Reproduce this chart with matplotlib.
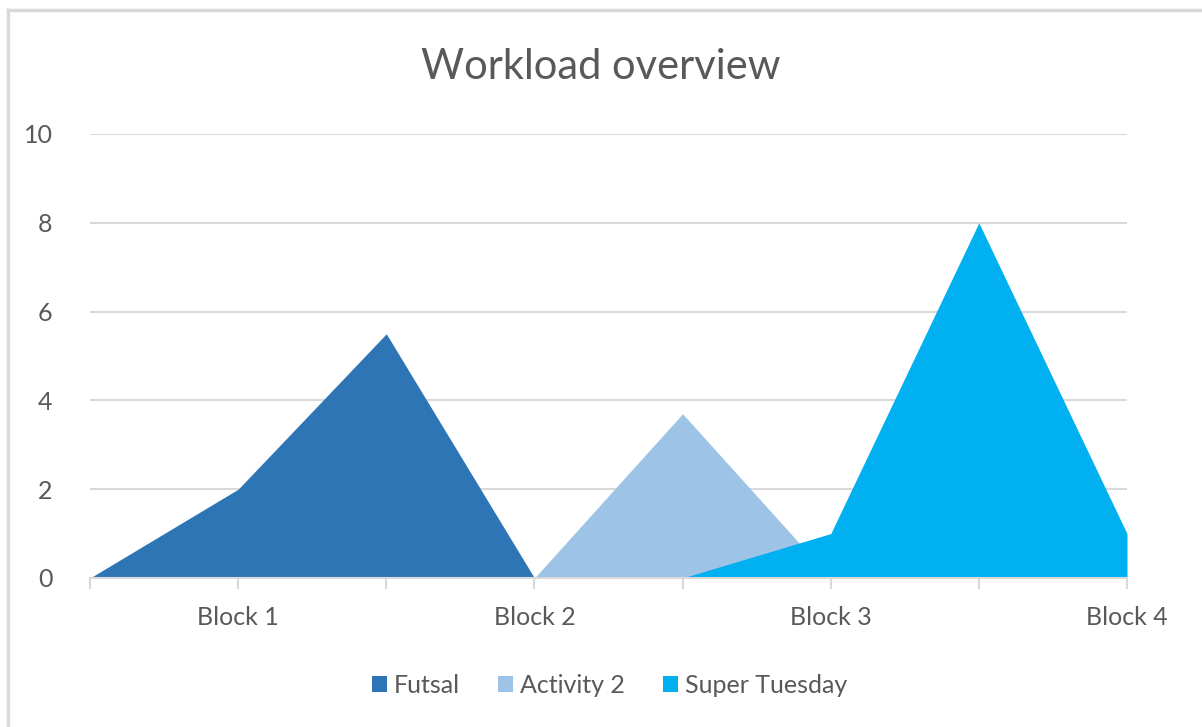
"""Workload overview area chart."""

import matplotlib

matplotlib.use("Agg")
import matplotlib.pyplot as plt
from matplotlib.lines import Line2D
from matplotlib.patches import Patch
import numpy as np

categories = ["", "Block 1", "", "Block 2", "", "Block 3", "", "Block 4"]
futsal = [0, 2, 5.5, 0, 0, 0, 0, 0]
activity2 = [0, 0, 0, 0, 3.7, 0, 0, 0]
super_tuesday = [0, 0, 0, 0, 0, 1, 8, 1]

series_names = ["Futsal", "Activity 2", "Super Tuesday"]
colors = ["#2E75B6", "#9DC3E6", "#00B0F0"]

plt.rcParams["font.family"] = ["Lato", "DejaVu Sans"]
text_color = "#595959"
grid_color = "#D9D9D9"

fig = plt.figure(figsize=(12.02, 7.27), dpi=100)
ax = fig.add_axes([0.0749, 0.2050, 0.8627, 0.6107])

x = np.arange(len(categories))
for vals, col in zip([futsal, activity2, super_tuesday], colors):
    ax.fill_between(x, 0, vals, color=col, linewidth=0)

ax.set_xlim(0, len(categories) - 1)
ax.set_ylim(0, 10)
ax.set_yticks(np.arange(0, 11, 2))
ax.set_xticks(x)
ax.set_xticklabels(categories)
ax.grid(axis="y", color=grid_color, linewidth=1.5)
ax.set_axisbelow(True)

for side in ["top", "right", "left"]:
    ax.spines[side].set_visible(False)
ax.spines["bottom"].set_color(grid_color)
ax.spines["bottom"].set_linewidth(1.5)
ax.spines["bottom"].set_zorder(3)

ax.tick_params(axis="y", length=0, pad=27, labelsize=18, labelcolor=text_color)
ax.tick_params(axis="x", length=8, width=1.5, color=grid_color, pad=12,
               labelsize=18, labelcolor=text_color)

fig.text(0.5, 0.908, "Workload overview", ha="center", va="center",
         fontsize=30, color=text_color)

handles = [Patch(facecolor=c, edgecolor="none") for c in colors]
fig.legend(handles, series_names, loc="center", bbox_to_anchor=(0.507, 0.057),
           ncol=3, frameon=False, fontsize=18, labelcolor=text_color,
           handlelength=0.6, handleheight=0.6, handletextpad=0.3, columnspacing=1.5)

# outer chart border
W, H = 1202, 727
border = "#D9D9D9"
fig.add_artist(Line2D([8 / W, 8 / W], [0, 1 - 10 / H], color=border, lw=2.5,
                      transform=fig.transFigure))
fig.add_artist(Line2D([8 / W, 1], [1 - 10 / H, 1 - 10 / H], color=border, lw=2.5,
                      transform=fig.transFigure))

fig.savefig("out.png", dpi=100)
plt.close(fig)
